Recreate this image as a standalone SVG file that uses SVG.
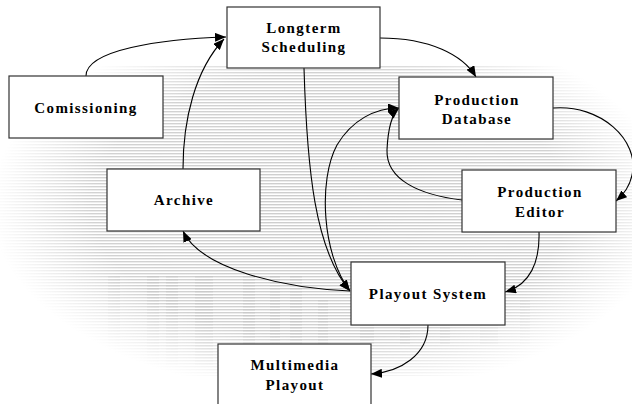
<svg xmlns="http://www.w3.org/2000/svg" width="632" height="404" viewBox="0 0 632 404">
<style>
.box{fill:#fff;stroke:#333;stroke-width:1.2}
.lbl{font-family:"Liberation Serif","Times New Roman",serif;font-weight:bold;font-size:15px;letter-spacing:1.4px;fill:#000;text-anchor:middle}
.edge{fill:none;stroke:#000;stroke-width:1.1}
</style>
<defs>
<marker id="arr" viewBox="0 0 11 9" refX="11" refY="4.5" markerWidth="11" markerHeight="9" markerUnits="userSpaceOnUse" orient="auto-start-reverse">
<path d="M0,0 L11,4.5 L0,9 z" fill="#000"/>
</marker>
<pattern id="stripes" width="8" height="3" patternUnits="userSpaceOnUse">
<rect x="0" y="0" width="8" height="1.4" fill="#cdcdcd"/>
</pattern>
<pattern id="stripesDark" width="8" height="3" patternUnits="userSpaceOnUse">
<rect x="0" y="0" width="8" height="1.6" fill="#bdbdbd"/>
</pattern>
<radialGradient id="fade" cx="330" cy="205" r="340" gradientUnits="userSpaceOnUse" gradientTransform="translate(330 205) scale(1 0.56) translate(-330 -205)">
<stop offset="0" stop-color="#fff" stop-opacity="1"/>
<stop offset="0.7" stop-color="#fff" stop-opacity="0.9"/>
<stop offset="1" stop-color="#fff" stop-opacity="0"/>
</radialGradient>
<mask id="bgmask">
<rect x="0" y="0" width="632" height="404" fill="url(#fade)"/>
</mask>
</defs>
<rect x="0" y="0" width="632" height="404" fill="#fff"/>
<g id="background" mask="url(#bgmask)">
<rect x="0" y="66" width="632" height="310" fill="url(#stripes)"/>
<g fill="url(#stripesDark)" opacity="0.45">
<rect x="108" y="275" width="12" height="90"/>
<rect x="147" y="275" width="12" height="90"/>
<rect x="166" y="275" width="12" height="90"/>
<rect x="195" y="275" width="18" height="90"/>
<rect x="243" y="275" width="12" height="90"/>
<rect x="270" y="275" width="10" height="90"/>
<rect x="290" y="275" width="12" height="90"/>
<rect x="318" y="300" width="10" height="45"/>
<rect x="360" y="300" width="14" height="45"/>
<rect x="400" y="300" width="10" height="45"/>
<rect x="440" y="300" width="10" height="45"/>
<rect x="480" y="300" width="18" height="45"/>
<rect x="520" y="300" width="10" height="45"/>
</g>
</g>
<g id="connectors">
<path class="edge" d="M86,76 C86,50 160,39 226,37" marker-end="url(#arr)"/>
<path class="edge" d="M183,169 C183,120 195,70 224,39" marker-end="url(#arr)"/>
<path class="edge" d="M380,38 C430,38 463,55 476,77" marker-end="url(#arr)"/>
<path class="edge" d="M553,108 C600,104 640,140 632,175 C630,185 623,195 616,201" marker-end="url(#arr)"/>
<path class="edge" d="M462,200 C420,195 386,180 387,150 C388,128 392,114 399,108" marker-end="url(#arr)"/>
<path class="edge" d="M350,291 C322,255 318,180 337,145 C352,120 375,108 399,108" marker-start="url(#arr)" marker-end="url(#arr)"/>
<path class="edge" d="M304,68 C307,170 315,250 350,291" marker-end="url(#arr)"/>
<path class="edge" d="M350,291 C280,288 200,268 183,231" marker-end="url(#arr)"/>
<path class="edge" d="M539,232 C540,262 530,285 505,292" marker-end="url(#arr)"/>
<path class="edge" d="M428,325 C428,355 400,372 371,374" marker-end="url(#arr)"/>
</g>
<g id="longterm">
<rect class="box" x="227" y="7" width="153" height="61"/>
<text class="lbl" x="304" y="33">Longterm</text>
<text class="lbl" x="304" y="52">Scheduling</text>
</g>
<g id="comissioning">
<rect class="box" x="9" y="76" width="154" height="62"/>
<text class="lbl" x="86" y="113">Comissioning</text>
</g>
<g id="archive">
<rect class="box" x="107" y="169" width="153" height="62"/>
<text class="lbl" x="184" y="205">Archive</text>
</g>
<g id="productionDatabase">
<rect class="box" x="399" y="77" width="154" height="62"/>
<text class="lbl" x="477" y="105">Production</text>
<text class="lbl" x="477" y="124">Database</text>
</g>
<g id="productionEditor">
<rect class="box" x="462" y="170" width="154" height="62"/>
<text class="lbl" x="540" y="197">Production</text>
<text class="lbl" x="540" y="217">Editor</text>
</g>
<g id="playoutSystem">
<rect class="box" x="351" y="262" width="154" height="63"/>
<text class="lbl" x="428" y="299">Playout System</text>
</g>
<g id="multimediaPlayout">
<rect class="box" x="218" y="344" width="153" height="64"/>
<text class="lbl" x="295" y="370">Multimedia</text>
<text class="lbl" x="295" y="390">Playout</text>
</g>
</svg>
